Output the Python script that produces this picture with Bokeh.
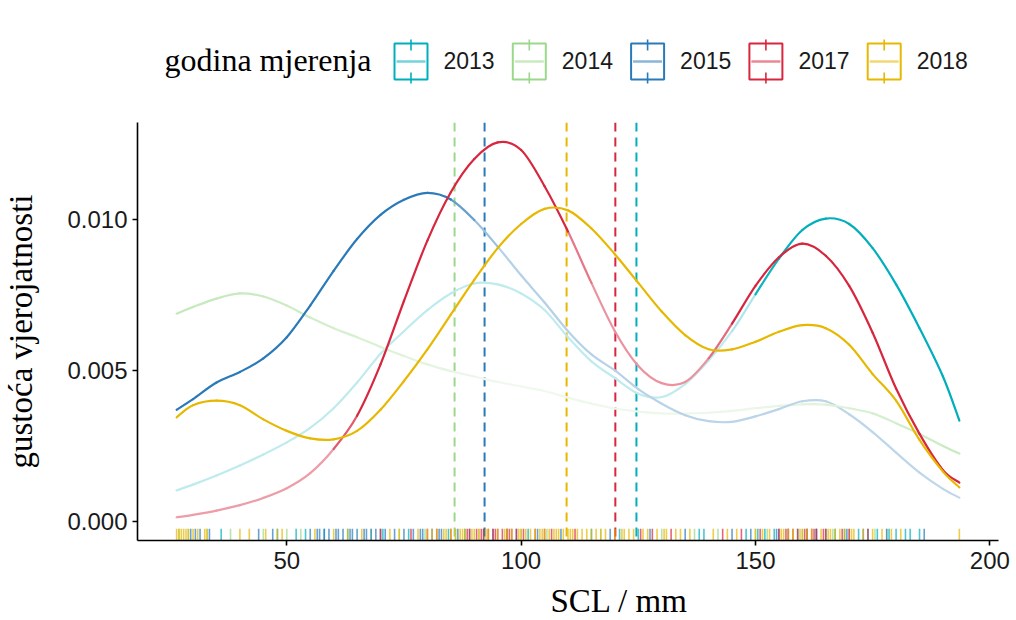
import numpy as np
from bokeh.plotting import figure
from bokeh.models import Range1d, Span, Title, PrintfTickFormatter
from bokeh.layouts import column
from bokeh.embed import file_html
from bokeh.resources import INLINE
from bokeh.core.properties import value

# ---------------- data ----------------
years = ["2013", "2014", "2015", "2017", "2018"]
colors = ["#00AFBB", "#9BD88C", "#2A7AB9", "#D7263D", "#E7B800"]

scl = [26.5, 30, 35, 40, 45, 50, 55, 60, 65, 70, 75, 80, 85, 90, 95, 100, 105, 110,
       115, 120, 125, 130, 135, 140, 145, 150, 155, 160, 165, 170, 175, 180, 185, 190, 193.5]

dens_2013 = [.00103, .00122, .00152, .00185, .00222, .00262, .00310, .00375, .00460, .00555,
             .00630, .00700, .00755, .00788, .00785, .00755, .00700, .00610, .00530, .00475,
             .00423, .00412, .00455, .00533, .00630, .00752, .00870, .00965, .01003, .00985,
             .00905, .00785, .00640, .00480, .00334]
dens_2014 = [.00688, .00710, .00738, .00755, .00745, .00715, .00675, .00640, .00610, .00578,
             .00548, .00520, .00498, .00480, .00462, .00447, .00432, .00410, .00390, .00374,
             .00364, .00358, .00357, .00360, .00366, .00375, .00383, .00388, .00387, .00375,
             .00358, .00325, .00290, .00250, .00225]
dens_2015 = [.00370, .00405, .00460, .00495, .00540, .00610, .00715, .00830, .00935, .01015,
             .01065, .01088, .01066, .00998, .00910, .00815, .00725, .00630, .00553, .00500,
             .00438, .00390, .00352, .00332, .00330, .00348, .00372, .00398, .00398, .00355,
             .00296, .00228, .00162, .00108, .00079]
dens_2017 = [.00014, .00022, .00036, .00054, .00078, .00110, .00160, .00240, .00350, .00520,
             .00730, .00930, .01090, .01200, .01255, .01230, .01110, .00960, .00790, .00630,
             .00515, .00458, .00462, .00540, .00655, .00780, .00875, .00920, .00880, .00780,
             .00625, .00440, .00290, .00170, .00129]
dens_2018 = [.00345, .00385, .00400, .00385, .00338, .00300, .00275, .00272, .00300, .00370,
             .00465, .00570, .00685, .00800, .00905, .00985, .01035, .01030, .00970, .00885,
             .00790, .00695, .00617, .00570, .00570, .00595, .00628, .00650, .00640, .00585,
             .00488, .00400, .00270, .00165, .00113]
densities = [dens_2013, dens_2014, dens_2015, dens_2017, dens_2018]

means = [124.6, 85.8, 92.2, 120.1, 109.7]

rug_2013 = [36, 48, 52, 54, 58, 63, 70.5, 76, 84.5, 88, 92, 97, 101.5, 115, 121, 125, 138, 139,
            148, 150.5, 152, 154, 157, 159, 163, 165, 167, 169, 172, 174, 176, 178.5, 180, 182,
            183, 185]
rug_2014 = [27, 29, 33, 38, 45, 50, 53, 68, 74, 79.5, 86, 91, 100, 105.5, 117, 130, 137, 142,
            150, 152.5, 160, 166.5, 170, 175.5, 178]
rug_2015 = [29.5, 30.5, 31.5, 33.5, 44, 47, 55, 56.5, 57, 58, 59, 60.5, 61, 62, 63.5, 64, 65,
            66.5, 67, 68, 69, 70, 71, 73, 75, 77, 78.5, 79, 81, 82.5, 83, 86.5, 89, 94, 99,
            103.5, 108.5, 119, 127.5, 135, 145, 149, 154.5, 155, 161, 163, 169.5, 173, 178, 186]
rug_2017 = [70, 76.5, 80, 82, 85, 88.5, 89, 90.5, 91.5, 92, 93, 94, 94.5, 95, 96, 97, 97.5, 98,
            99, 100.5, 103, 105, 106.5, 111.5, 120, 125.5, 128, 132, 143, 147, 151, 155, 156.5,
            157, 158, 159, 160.5, 161, 162, 162.5, 163, 164.5, 165, 168.5, 170, 174]
rug_2018 = [26.5, 27, 27.5, 28, 28.5, 29, 30, 31, 32.5, 33, 40, 42, 45.5, 48, 49, 56, 60, 63,
            66, 72, 74, 78, 80, 81, 82, 83.5, 84, 85, 86, 87, 87.5, 88, 89.5, 90, 91, 92.5, 93,
            95, 96.5, 97, 98, 99.5, 100, 101, 102, 103, 104, 104.5, 105, 106, 107, 107.5, 108,
            109, 110, 110.5, 111, 112, 113, 114, 115, 116, 117, 118, 120, 121.5, 122, 123, 124,
            126, 127, 129, 130.5, 131, 133, 134, 136, 141, 144, 146, 150, 151.5, 153, 155.5,
            156, 157, 158, 159.5, 160, 161, 162, 164, 165.5, 166, 167, 168, 169, 170.5, 171,
            173, 175, 177, 179, 181, 193.5]
rugs = [rug_2013, rug_2014, rug_2015, rug_2017, rug_2018]

# opacity profile of each curve along SCL (style)
alpha_knots = [
    ([26.5, 147, 153, 193.5], [0.25, 0.25, 1.0, 1.0]),
    ([26.5, 50, 95, 150, 193.5], [0.6, 0.5, 0.15, 0.2, 0.55]),
    ([26.5, 82, 95, 193.5], [1.0, 1.0, 0.35, 0.3]),
    ([26.5, 58, 66, 108, 114, 140, 147, 193.5], [0.45, 0.45, 1.0, 1.0, 0.5, 0.5, 1.0, 1.0]),
    ([26.5, 193.5], [1.0, 1.0]),
]


def blend(hexcol, a):
    r, g, b = (int(hexcol[i:i + 2], 16) for i in (1, 3, 5))
    mix = lambda c: int(round(255 * (1 - a) + c * a))
    return "#%02x%02x%02x" % (mix(r), mix(g), mix(b))


# ---------------- main figure ----------------
XMIN, XMAX = 18.15, 201.85
YMIN, YMAX = -0.00063, 0.01321
LEG_H = 100
BL, BR, FW = 135, 20, 861

p = figure(frame_width=FW, frame_height=418, output_backend="svg", toolbar_location=None,
           x_range=Range1d(XMIN, XMAX), y_range=Range1d(YMIN, YMAX),
           min_border_left=BL, min_border_top=122 - LEG_H, min_border_right=BR,
           min_border_bottom=70)
p.outline_line_color = None
p.xgrid.grid_line_color = None
p.ygrid.grid_line_color = None
p.background_fill_color = "white"

# vertical dashed mean lines
for m, c in zip(means, colors):
    p.add_layout(Span(location=m, dimension="height", line_color=c, line_width=2,
                      line_dash="9 6", level="underlay"))

# density curves: smooth (Catmull-Rom) bezier pieces with varying opacity
segs = []
n = len(scl)
for dens, c, (kx, ka) in zip(densities, colors, alpha_knots):
    for i in range(n - 1):
        i0, i2 = max(i - 1, 0), min(i + 2, n - 1)
        x0, y0, x1, y1 = scl[i], dens[i], scl[i + 1], dens[i + 1]
        cx0 = x0 + (x1 - scl[i0]) / 6.0
        cy0 = y0 + (y1 - dens[i0]) / 6.0
        cx1 = x1 - (scl[i2] - x0) / 6.0
        cy1 = y1 - (dens[i2] - y0) / 6.0
        a = float(np.interp(0.5 * (x0 + x1), kx, ka))
        segs.append((a, x0, y0, x1, y1, cx0, cy0, cx1, cy1, blend(c, a)))
segs.sort(key=lambda s: s[0])
cols = list(zip(*segs))
p.bezier(x0=list(cols[1]), y0=list(cols[2]), x1=list(cols[3]), y1=list(cols[4]),
         cx0=list(cols[5]), cy0=list(cols[6]), cx1=list(cols[7]), cy1=list(cols[8]),
         line_color=list(cols[9]), line_width=2.2, line_cap="round")

# rug
rug_top = YMIN + 0.028 * (YMAX - YMIN)
for r, c in zip(rugs, colors):
    p.segment(x0=r, y0=[YMIN] * len(r), x1=r, y1=[rug_top] * len(r),
              line_color=c, line_alpha=0.7, line_width=1.6)

p.xaxis.ticker = [50, 100, 150, 200]
p.yaxis.ticker = [0.0, 0.005, 0.010]
p.yaxis.formatter = PrintfTickFormatter(format="%.3f")
for ax in (p.xaxis, p.yaxis):
    ax.axis_line_color = "black"
    ax.axis_line_width = 1.6
    ax.major_tick_line_color = "black"
    ax.major_tick_line_width = 1.6
    ax.major_tick_out = 5
    ax.major_tick_in = 0
    ax.minor_tick_line_color = None
    ax.major_label_text_font = "Liberation Sans"
    ax.major_label_text_font_size = "24px"
    ax.major_label_text_color = "#1a1a1a"
p.xaxis.major_label_standoff = 6
p.yaxis.major_label_standoff = 5

p.yaxis.axis_label = "gustoća vjerojatnosti"
p.yaxis.axis_label_text_font = "Liberation Serif"
p.yaxis.axis_label_text_font_size = "33px"
p.yaxis.axis_label_text_font_style = "normal"
p.yaxis.axis_label_text_color = "black"
p.yaxis.axis_label_standoff = 25

p.add_layout(Title(text="SCL / mm", align="left", offset=548 - BL, text_font="Liberation Serif",
                   text_font_size="33px", text_font_style="normal", text_color="black",
                   standoff=19), "below")

# ---------------- legend figure (same frame alignment as main) ----------------
lf = figure(frame_width=FW, frame_height=LEG_H, output_backend="svg", toolbar_location=None,
            x_range=Range1d(BL, BL + FW), y_range=Range1d(LEG_H, 0),
            x_axis_type=None, y_axis_type=None,
            min_border_left=BL, min_border_right=BR, min_border_top=0, min_border_bottom=0)
lf.outline_line_color = None
lf.xgrid.grid_line_color = None
lf.ygrid.grid_line_color = None

lf.text(x=[162], y=[59], text=["godina mjerenja"], text_font=value("Liberation Serif"),
        text_font_size="32px", text_baseline="middle", text_align="left", text_color="black")

kx0 = [392 + 118.3 * i for i in range(len(years))]
lf.quad(left=kx0, right=[x + 33 for x in kx0], top=[43] * 5, bottom=[79] * 5,
        fill_color="white", line_color=colors, line_width=2)
lf.segment(x0=[x + 2 for x in kx0], y0=[61] * 5, x1=[x + 31 for x in kx0], y1=[61] * 5,
           line_color=[blend(c, 0.55) for c in colors], line_width=2.5)
lf.segment(x0=[x + 16.5 for x in kx0], y0=[39] * 5, x1=[x + 16.5 for x in kx0], y1=[50] * 5,
           line_color=colors, line_width=1.6)
lf.segment(x0=[x + 16.5 for x in kx0], y0=[72] * 5, x1=[x + 16.5 for x in kx0], y1=[83] * 5,
           line_color=colors, line_width=1.6)
lf.text(x=[x + 49 for x in kx0], y=[60] * 5, text=years, text_font=value("Liberation Sans"),
        text_font_size="23px", text_baseline="middle", text_align="left", text_color="#1a1a1a")

layout = column(lf, p, spacing=0)
open("out.html", "w").write(file_html(layout, INLINE))
